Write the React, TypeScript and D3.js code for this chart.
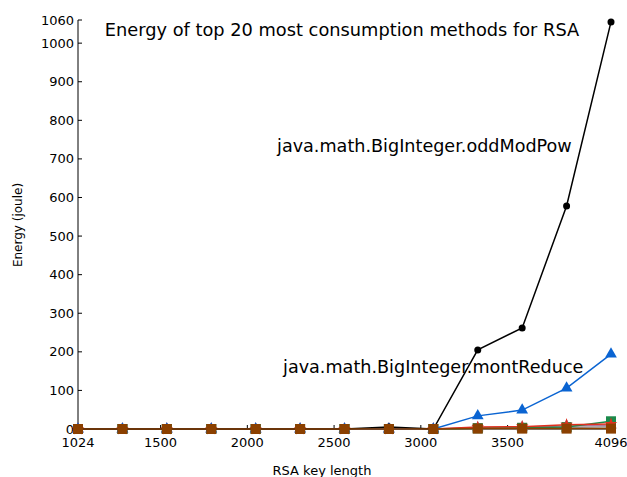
import React from "react";
import * as d3 from "d3";

const keyLengths = [1024, 1280, 1536, 1792, 2048, 2304, 2560, 2816, 3072, 3328, 3584, 3840, 4096];
const xTicks = [1024, 1500, 2000, 2500, 3000, 3500, 4096];
const yTicks = [0, 100, 200, 300, 400, 500, 600, 700, 800, 900, 1000, 1060];

const oddModPow = [0, 0, 0, 0, 0, 0, 0, 5, 0, 205, 262, 578, 1055];
const montReduce = [0, 0, 0, 0, 0, 0, 0, 0, 0, 34, 49, 106, 194];
const methodGreen = [0, 0, 0, 0, 0, 0, 0, 0, 0, 2, 3, 5, 20];
const methodRed = [0, 0, 0, 0, 0, 0, 0, 0, 0, 5, 6, 11, 13];
const methodPurple = [0, 0, 0, 0, 0, 0, 0, 0, 0, 3, 5, 8, 10];
const methodGray = [0, 0, 0, 0, 0, 0, 0, 0, 0, 2, 3, 4, 6];
const methodBrown = [0, 0, 0, 0, 0, 0, 0, 0, 0, 1, 1, 1, 1];

const series = [
  { name: "purple", values: methodPurple, color: "#b07aa1", marker: "triangle" },
  { name: "gray", values: methodGray, color: "#999999", marker: "square" },
  { name: "green", values: methodGreen, color: "#1a8a4a", marker: "square" },
  { name: "red", values: methodRed, color: "#e0301e", marker: "star" },
  { name: "montReduce", values: montReduce, color: "#0a64d2", marker: "triangle" },
  { name: "oddModPow", values: oddModPow, color: "#000000", marker: "circle" },
  { name: "brown", values: methodBrown, color: "#8b4000", marker: "square" },
];

const W = 627, H = 477;
const x = d3.scaleLinear().domain([1024, 4096]).range([78, 611]);
const y = d3.scaleLinear().domain([0, 1060]).range([429, 20]);
const FONT = "'DejaVu Sans', sans-serif";

function Marker({ type, cx, cy, color }: any) {
  if (type === "circle") return <circle cx={cx} cy={cy} r={3.5} fill={color} />;
  if (type === "square") return <rect x={cx - 5} y={cy - 5} width={10} height={10} fill={color} />;
  if (type === "triangle") {
    const p = d3.symbol().type(d3.symbolTriangle).size(60)();
    return <path d={p || ""} transform={`translate(${cx},${cy})`} fill={color} />;
  }
  const p = d3.symbol().type(d3.symbolStar).size(50)();
  return <path d={p || ""} transform={`translate(${cx},${cy})`} fill={color} />;
}

export default function App() {
  const line = d3.line<number>().x((_, i) => x(keyLengths[i])).y((d) => y(d));
  return (
    <svg width={W} height={H} style={{ position: "absolute", left: 0, top: 0, background: "#fff" }}>
      <text x={342} y={36} textAnchor="middle" fontFamily={FONT} fontSize={17.8} fill="#000">
        Energy of top 20 most consumption methods for RSA
      </text>
      {/* y axis */}
      <line x1={78} x2={78} y1={y(1060)} y2={y(0)} stroke="#000" strokeWidth={1} />
      {yTicks.map((t) => (
        <g key={t}>
          <line x1={78} x2={82} y1={y(t)} y2={y(t)} stroke="#000" />
          <text x={74} y={y(t)} dy="0.35em" textAnchor="end" fontFamily={FONT} fontSize={13} fill="#000">{t}</text>
        </g>
      ))}
      {/* x axis */}
      <line x1={78} x2={611} y1={429} y2={429} stroke="#000" />
      {xTicks.map((t) => (
        <g key={t}>
          <line x1={x(t)} x2={x(t)} y1={429} y2={425} stroke="#000" />
          <text x={x(t)} y={447} textAnchor="middle" fontFamily={FONT} fontSize={13} fill="#000">{t}</text>
        </g>
      ))}
      <text x={322} y={475} textAnchor="middle" fontFamily={FONT} fontSize={13} fill="#000">RSA key length</text>
      <text transform="translate(22,225) rotate(-90)" textAnchor="middle" fontFamily={FONT} fontSize={12} fill="#000">Energy (joule)</text>
      {series.map((s) => (
        <g key={s.name}>
          <path d={line(s.values) || ""} fill="none" stroke={s.color} strokeWidth={1.5} />
          {s.values.map((v, i) => (
            <Marker key={i} type={s.marker} cx={x(keyLengths[i])} cy={y(v)} color={s.color} />
          ))}
        </g>
      ))}
      <text x={277} y={152} fontFamily={FONT} fontSize={17.6} fill="#000">java.math.BigInteger.oddModPow</text>
      <text x={283} y={373} fontFamily={FONT} fontSize={17.6} fill="#000">java.math.BigInteger.montReduce</text>
    </svg>
  );
}
